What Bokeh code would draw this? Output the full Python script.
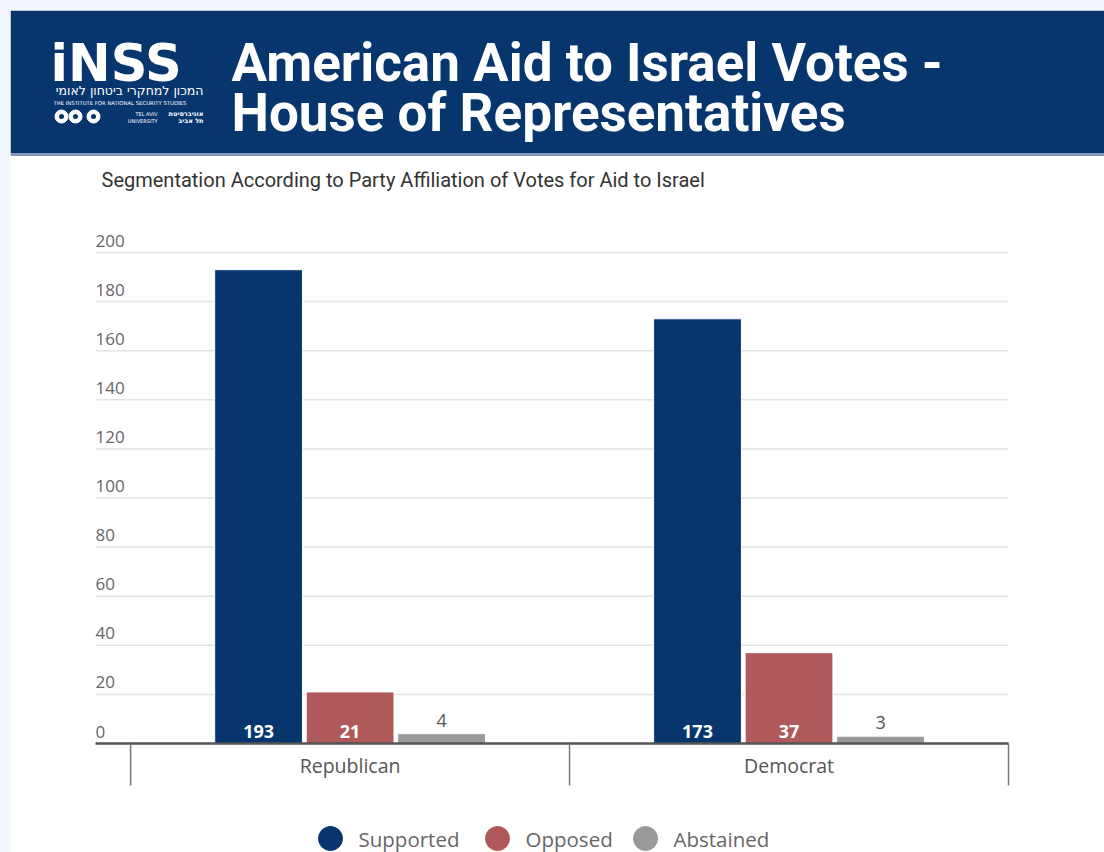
from bokeh.plotting import figure
from bokeh.models import Range1d, ColumnDataSource
from bokeh.layouts import column
from bokeh.transform import dodge
from bokeh.core.properties import value
from bokeh.embed import file_html
from bokeh.resources import INLINE

# ---------------- data ----------------
parties = ["Republican", "Democrat"]
series = ["Supported", "Opposed", "Abstained"]
supported = [193, 173]
opposed = [21, 37]
abstained = [4, 3]
series_colors = ["#07366f", "#b0595a", "#999999"]
y_ticks = [0, 20, 40, 60, 80, 100, 120, 140, 160, 180, 200]

title_line1 = "American Aid to Israel Votes -"
title_line2 = "House of Representatives"
subtitle = "Segmentation According to Party Affiliation of Votes for Aid to Israel"
logo_main = "iNSS"
logo_hebrew = "המכון למחקרי ביטחון לאומי"
logo_english = "THE INSTITUTE FOR NATIONAL SECURITY STUDIES"
logo_tau_en = ["TEL AVIV", "UNIVERSITY"]
logo_tau_he = ["אוניברסיטת", "תל אביב"]

# ---------------- layout constants (page pixels) ----------------
NAVY = "#07366f"
FONT = "Open Sans"
PAGE_W, PAGE_H, M = 1104, 852, 10
PX_L, PX_R = 95, 1008          # plot area left / right
PX_ZERO, PX_TOP = 743, 252     # y pixel of 0 and of the top tick

x_start, x_end = -0.58, 1.5
kx = (PX_R - PX_L) / (x_end - x_start)
x_lo = x_start - (PX_L - M) / kx
x_hi = x_end + (PAGE_W - PX_R) / kx
ky = (PX_ZERO - PX_TOP) / y_ticks[-1]
y_lo = -(PAGE_H - PX_ZERO) / ky
y_hi = (PX_ZERO - M) / ky

p = figure(width=PAGE_W - M, height=PAGE_H - M, title=None,
           x_range=Range1d(x_lo, x_hi), y_range=Range1d(y_lo, y_hi),
           output_backend="svg", toolbar_location=None,
           x_axis_location=None, y_axis_location=None, min_border=0,
           outline_line_color=None, background_fill_color="white",
           border_fill_color="white", margin=(M, 0, 0, M))
p.grid.visible = False
p.extra_x_ranges = {"px": Range1d(M, PAGE_W)}
p.extra_y_ranges = {"px": Range1d(PAGE_H, M)}

# ---------------- header ----------------
p.quad(left=[M], right=[PAGE_W], top=[M], bottom=[153], x_range_name="px", y_range_name="px",
       fill_color=NAVY, line_color=None)
p.quad(left=[M], right=[PAGE_W], top=[153], bottom=[155.5], x_range_name="px", y_range_name="px",
       fill_color="#8199c0", line_color=None)

def ptext(x, y, txt, **kw):
    p.text(x=x, y=y, text=txt, x_range_name="px", y_range_name="px", **kw)

ptext([50], [63], [logo_main], text_font=value("DejaVu Sans"), text_font_style="bold",
      text_font_size="51px", text_color="white", text_baseline="middle")
ptext([203], [90], [logo_hebrew], text_font=value("DejaVu Sans"), text_font_size="12.5px",
      text_color="white", text_baseline="middle", text_align="right")
ptext([53], [102], [logo_english], text_font=value("DejaVu Sans"), text_font_size="5.3px",
      text_color="white", text_baseline="middle")
p.scatter(x=[61, 75, 93], y=[116, 116, 116], x_range_name="px", y_range_name="px",
          marker="circle", size=13, fill_color="white", line_color="white")
p.scatter(x=[61, 75, 93], y=[116, 116, 116], x_range_name="px", y_range_name="px",
          marker="circle", size=5, fill_color=NAVY, line_color=None)
ptext([157, 157], [113, 120], logo_tau_en, text_font=value("DejaVu Sans"), text_font_size="5px",
      text_color="white", text_baseline="middle", text_align="right")
ptext([203, 203], [113, 120], logo_tau_he, text_font=value("DejaVu Sans"), text_font_size="6.5px",
      text_font_style="bold", text_color="white", text_baseline="middle", text_align="right")

ptext([231, 231], [62, 112], [title_line1, title_line2], text_font=value("Roboto"),
      text_font_style="bold", text_font_size="53px", text_color="white",
      text_baseline="middle")

ptext([101], [179], [subtitle], text_font=value("Roboto"), text_font_size="20px",
      text_color="#333333", text_baseline="middle")

# ---------------- chart ----------------
p.segment(x0=[x_start] * len(y_ticks), x1=[x_end] * len(y_ticks), y0=y_ticks, y1=y_ticks,
          line_color="#e3e3e3", line_width=1.5)
p.text(x=[x_start] * len(y_ticks), y=y_ticks, text=[str(t) for t in y_ticks],
       text_font=value(FONT), text_font_size="17px", text_color="#666666",
       text_align="left", text_baseline="bottom", y_offset=-6)

idx = list(range(len(parties)))
src = ColumnDataSource(dict(
    x=idx,
    Supported=supported, Opposed=opposed, Abstained=abstained,
    Supported_lbl=[str(v) for v in supported],
    Opposed_lbl=[str(v) for v in opposed],
    Abstained_lbl=[str(v) for v in abstained],
    zero=[0] * len(parties),
))

offsets = [-0.2085, 0.0, 0.2085]
bar_w = 0.2
for s, c, off in zip(series, series_colors, offsets):
    p.vbar(x=dodge("x", off), top=s, width=bar_w, source=src,
           fill_color=c, line_color="white", line_width=1)

for s, off in zip(series[:2], offsets[:2]):
    p.text(x=dodge("x", off), y="zero", text=s + "_lbl", source=src,
           text_font=value(FONT), text_font_style="bold", text_font_size="18px",
           text_color="white", text_align="center", text_baseline="bottom", y_offset=-6)
p.text(x=dodge("x", offsets[2]), y="Abstained", text="Abstained_lbl", source=src,
       text_font=value(FONT), text_font_size="18px", text_color="#555555",
       text_align="center", text_baseline="bottom", y_offset=-7)

# baseline and category separators
p.segment(x0=[x_start], x1=[x_end], y0=[0], y1=[0], line_color="#555555", line_width=2.5)
seps = [i - 0.5 for i in range(len(parties) + 1)]
p.segment(x0=seps, x1=seps, y0=[PX_ZERO] * len(seps), y1=[PX_ZERO + 42] * len(seps),
          y_range_name="px", line_color="#777777", line_width=1.5)
p.text(x=idx, y=[765] * len(idx), text=parties, y_range_name="px",
       text_font=value(FONT), text_font_size="19.5px", text_color="#555555",
       text_align="center", text_baseline="middle")

# legend
leg_x = [330, 497, 645]
p.scatter(x=leg_x, y=[838] * 3, x_range_name="px", y_range_name="px", marker="circle",
          size=24, fill_color=series_colors, line_color=series_colors)
ptext([x + 28 for x in leg_x], [838] * 3, series, text_font=value(FONT),
      text_font_size="20.5px", text_color="#666666", text_baseline="middle")

layout = column(p, styles={"background-color": "#f3f6fc"})
open("out.html", "w").write(file_html(layout, INLINE))
